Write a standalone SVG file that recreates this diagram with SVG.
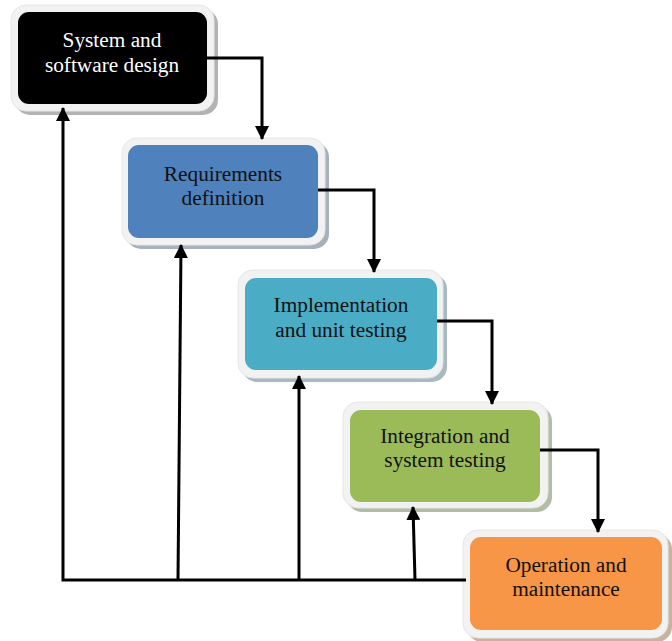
<svg xmlns="http://www.w3.org/2000/svg" width="672" height="641" viewBox="0 0 672 641">
<defs>
<style>
.frame{fill:#F2F2F2;stroke:#E6E6E6;stroke-width:1}
.shadow{opacity:0.75}
.lbl{font-family:"Liberation Serif","Times New Roman",serif;font-size:21.3px;text-anchor:middle;fill:#111}
.conn{fill:none;stroke:#000;stroke-width:3;stroke-linejoin:miter}
</style>
<marker id="ah" markerWidth="14" markerHeight="14" viewBox="0 0 14 14" refX="13" refY="7" orient="auto" markerUnits="userSpaceOnUse">
<path d="M0,0 L14,7 L0,14 Z" fill="#000"/>
</marker>
</defs>
<rect width="672" height="641" fill="#fff"/>

<g id="n1">
<rect class="shadow" x="15" y="9" width="203" height="106" rx="15" fill="#9a9a9a"/>
<rect class="frame" x="11" y="5" width="203" height="106" rx="15"/>
<rect x="18" y="12" width="189" height="92" rx="11" fill="#000"/>
<text class="lbl" x="112" y="47" style="fill:#fff">System and</text>
<text class="lbl" x="112" y="72" style="fill:#fff">software design</text>
</g>

<g id="n2">
<rect class="shadow" x="126" y="142" width="203" height="107" rx="15" fill="#8a97a8"/>
<rect class="frame" x="122" y="138" width="203" height="107" rx="15"/>
<rect x="128" y="145" width="190" height="93" rx="11" fill="#4F81BD"/>
<text class="lbl" x="223" y="181">Requirements</text>
<text class="lbl" x="223" y="205">definition</text>
</g>

<g id="n3">
<rect class="shadow" x="242" y="274" width="205" height="108" rx="15" fill="#8aa3ab"/>
<rect class="frame" x="238" y="270" width="205" height="108" rx="15"/>
<rect x="245" y="278" width="192" height="92" rx="11" fill="#4BACC6"/>
<text class="lbl" x="341" y="312">Implementation</text>
<text class="lbl" x="341" y="337">and unit testing</text>
</g>

<g id="n4">
<rect class="shadow" x="347" y="406" width="205" height="106" rx="15" fill="#9aa58a"/>
<rect class="frame" x="343" y="402" width="205" height="106" rx="15"/>
<rect x="350" y="410" width="190" height="92" rx="11" fill="#9BBB59"/>
<text class="lbl" x="445" y="443">Integration and</text>
<text class="lbl" x="445" y="467">system testing</text>
</g>

<g id="n5">
<rect class="shadow" x="467" y="534" width="205" height="108" rx="15" fill="#b59a82"/>
<rect class="frame" x="463" y="530" width="205" height="108" rx="15"/>
<rect x="470" y="537" width="192" height="93" rx="11" fill="#F79646"/>
<text class="lbl" x="566" y="572">Operation and</text>
<text class="lbl" x="566" y="596">maintenance</text>
</g>

<g id="connectors">
<polyline class="conn" points="207,58 262,58 262,139" marker-end="url(#ah)"/>
<polyline class="conn" points="318,190 374,190 374,272" marker-end="url(#ah)"/>
<polyline class="conn" points="437,321 492,321 492,404" marker-end="url(#ah)"/>
<polyline class="conn" points="540,450 598,450 598,532" marker-end="url(#ah)"/>
<polyline class="conn" points="466,580 63,580 63,108" marker-end="url(#ah)"/>
<line class="conn" x1="178" y1="580" x2="181" y2="245" marker-end="url(#ah)"/>
<line class="conn" x1="299" y1="580" x2="299" y2="376" marker-end="url(#ah)"/>
<line class="conn" x1="415" y1="580" x2="413" y2="507" marker-end="url(#ah)"/>
</g>
</svg>
